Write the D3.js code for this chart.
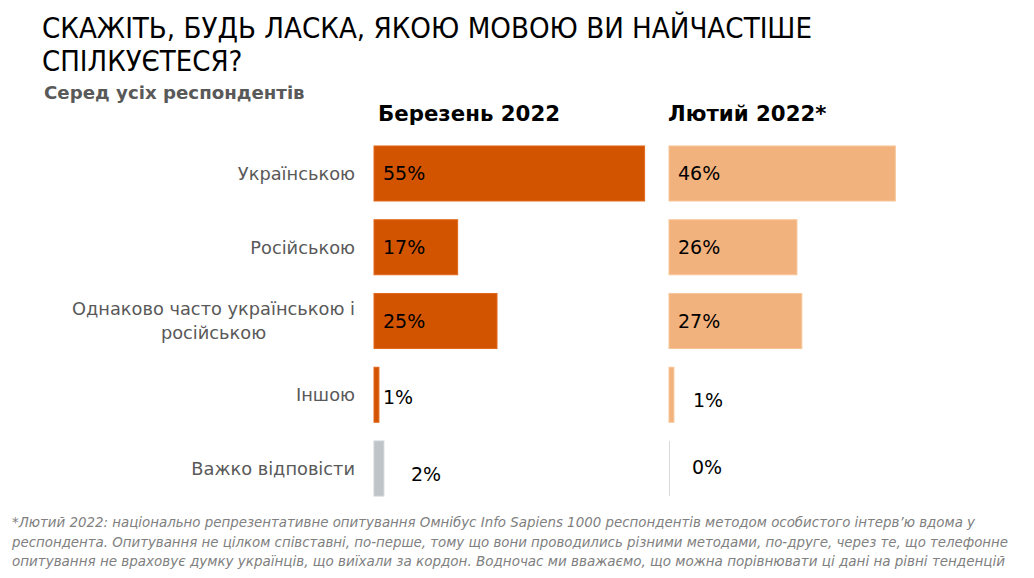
<!DOCTYPE html>
<html><head><meta charset="utf-8">
<script src="https://cdn.jsdelivr.net/npm/d3@7/dist/d3.min.js"></script>
<style>
html,body{margin:0;padding:0;background:#fff;}
svg{display:block;}
text{font-family:"DejaVu Sans",sans-serif;}
.cond{font-family:"DejaVu Sans Condensed","DejaVu Sans",sans-serif;}
</style></head>
<body>
<svg id="chart" width="1034" height="578"></svg>
<script>
const titleLines = ["СКАЖІТЬ, БУДЬ ЛАСКА, ЯКОЮ МОВОЮ ВИ НАЙЧАСТІШЕ", "СПІЛКУЄТЕСЯ?"];
const subtitle = "Серед усіх респондентів";
const categories = [["Українською"], ["Російською"], ["Однаково часто українською і", "російською"], ["Іншою"], ["Важко відповісти"]];
const seriesNames = ["Березень 2022", "Лютий 2022*"];
const march2022 = [55, 17, 25, 1, 2];
const feb2022 = [46, 26, 27, 1, 0];
const footnoteLines = [
  "*Лютий 2022: національно репрезентативне опитування Омнібус Info Sapiens 1000 респондентів методом особистого інтерв’ю вдома у",
  "респондента. Опитування не цілком співставні, по-перше, тому що вони проводились різними методами, по-друге, через те, що телефонне",
  "опитування не враховує думку українців, що виїхали за кордон. Водночас ми вважаємо, що можна порівнювати ці дані на рівні тенденцій"
];

const svg = d3.select("#chart");

// Title
titleLines.forEach((t, i) => {
  const tx = svg.append("text").attr("class", "cond").attr("x", 42).attr("y", 38 + i * 33)
    .attr("font-size", 29).attr("fill", "#000").text(t);
  if (i === 0) tx.attr("textLength", 770).attr("lengthAdjust", "spacingAndGlyphs");
});
svg.append("text").attr("x", 44).attr("y", 99).attr("font-size", 18.2)
  .attr("font-weight", "bold").attr("fill", "#595959").text(subtitle);

// Scales
const idx = d3.range(categories.length);
const y = d3.scaleBand().domain(idx).range([136.6, 505.4]).paddingInner(0.254).paddingOuter(0.127);
const x = d3.scaleLinear().domain([0, 100]).range([0, 492]);
const colX = [374, 669];
const headerX = [378, 668];

// Column headers
seriesNames.forEach((s, i) => {
  svg.append("text").attr("x", headerX[i]).attr("y", 121).attr("font-size", 21.3)
    .attr("font-weight", "bold").attr("fill", "#000").text(s);
});

// Category labels
idx.forEach(i => {
  const lines = categories[i];
  const cy = y(i) + y.bandwidth() / 2;
  const lh = 24;
  const g = svg.append("g");
  const first = g.append("text").attr("x", 355).attr("text-anchor", "end")
    .attr("y", cy - (lines.length - 1) * lh / 2).attr("dy", "0.36em")
    .attr("font-size", 17.8).attr("fill", "#595959").text(lines[0]);
  if (lines.length > 1) {
    const w = first.node().getComputedTextLength();
    for (let k = 1; k < lines.length; k++) {
      g.append("text").attr("x", 355 - w / 2).attr("text-anchor", "middle")
        .attr("y", cy - (lines.length - 1) * lh / 2 + k * lh).attr("dy", "0.36em")
        .attr("font-size", 17.8).attr("fill", "#595959").text(lines[k]);
    }
  }
});

// Bars
const styles = [
  {fill: "#D35400", stroke: "#E2691C", other: "#BEC4C8", otherStroke: "#CDD2D5"},
  {fill: "#F2B27E", stroke: "#F8C597", other: "#F2B27E", otherStroke: "#D9D9D9"}
];
// label offsets for short bars (drawing style, not data)
const labelDx = [[9, 9, 9, 9, 37], [9, 9, 9, 24, 23]];
const labelDy = [[0, 0, 0, 2, 6], [0, 0, 0, 5, -1]];
[march2022, feb2022].forEach((vals, s) => {
  const g = svg.append("g").attr("transform", `translate(${colX[s]},0)`);
  vals.forEach((v, i) => {
    const isDK = i === categories.length - 1;
    const fill = (isDK && s === 0) ? styles[s].other : styles[s].fill;
    const stroke = (isDK) ? styles[s].otherStroke : styles[s].stroke;
    if (v > 0) {
      g.append("rect").attr("x", 0).attr("y", y(i)).attr("width", x(v)).attr("height", y.bandwidth())
        .attr("fill", fill).attr("stroke", stroke).attr("stroke-width", 1);
    } else {
      g.append("line").attr("x1", 0.5).attr("x2", 0.5).attr("y1", y(i)).attr("y2", y(i) + y.bandwidth())
        .attr("stroke", stroke).attr("stroke-width", 1);
    }
    g.append("text").attr("x", labelDx[s][i]).attr("y", y(i) + y.bandwidth() / 2 + labelDy[s][i])
      .attr("dy", "0.36em").attr("font-size", 19).attr("fill", "#000").text(v + "%");
  });
});

// Footnote
const fnW = [963, 996, 993];
footnoteLines.forEach((t, i) => {
  svg.append("text").attr("class", "cond").attr("x", 12).attr("y", 527 + i * 19.5).attr("font-size", 14.5)
    .attr("font-style", "italic").attr("fill", "#808080")
    .attr("textLength", fnW[i]).attr("lengthAdjust", "spacingAndGlyphs").text(t);
});
</script>
</body></html>
